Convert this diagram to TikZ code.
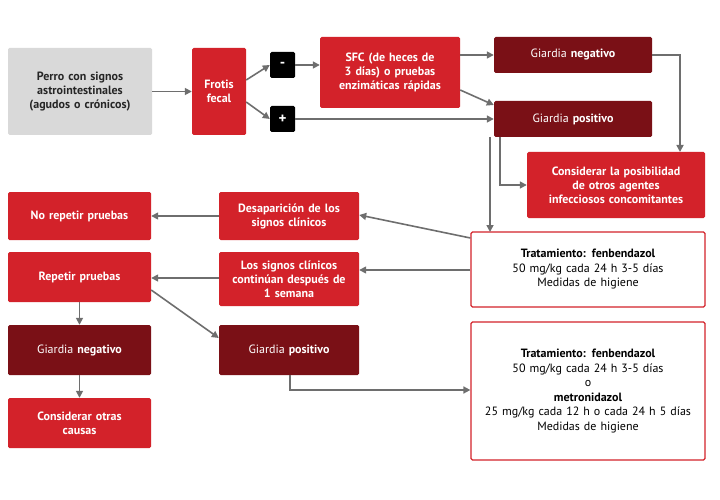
\documentclass[tikz,border=0pt]{standalone}
\usepackage{fontspec}
\setmainfont{PT Sans}
\usetikzlibrary{arrows.meta}
\definecolor{rd}{HTML}{D3222A}
\definecolor{drd}{HTML}{7A1016}
\definecolor{gb}{HTML}{D9D9D9}
\definecolor{ar}{HTML}{6E6E6E}
\begin{document}
\begin{tikzpicture}[x=1pt,y=-1pt,
 bx/.style={draw=none,rounded corners=1.5pt,inner sep=2pt,align=center,font=\fontsize{12}{14}\selectfont\bfseries,text=white},
 red/.style={bx,fill=rd},
 dark/.style={bx,fill=drd,font=\fontsize{12}{14}\selectfont},
 wt/.style={bx,fill=white,draw=rd,line width=1.2pt,text=black,font=\fontsize{12}{14.5}\selectfont},
 ar/.style={draw=ar,line width=1.6pt,-{Triangle[length=7pt,width=7pt]}}]
\useasboundingbox (0,0) rectangle (720,500);
\newcommand{\bxat}[6]{\node[#1,minimum width=#4-#2,minimum height=#5-#3,text width=#4-#2-6] (#6) at ({(#2+#4)/2},{(#3+#5)/2})}
\bxat{bx,fill=gb,text=black!85}{8}{48}{152}{135}{pe} {Perro con signos\\ astrointestinales\\ (agudos o crónicos)};
\bxat{red}{192}{48}{246}{135}{ff} {Frotis\\ fecal};
\node[bx,fill=black,minimum width=25,minimum height=26,font=\fontsize{15}{15}\selectfont\bfseries] (mi) at (282.5,65) {-};
\node[bx,fill=black,minimum width=25,minimum height=26,font=\fontsize{15}{15}\selectfont\bfseries] (pl) at (282.5,119) {+};
\bxat{red}{320}{37}{460}{108}{sfc} {SFC (de heces de\\ 3 días) o pruebas\\ enzimáticas rápidas};
\bxat{dark}{494}{37}{652}{73}{gn} {Giardia \textbf{negativo}};
\bxat{dark}{494}{101}{652}{137}{gp} {Giardia \textbf{positivo}};
\bxat{red}{527}{152}{705}{218}{co} {Considerar la posibilidad\\ de otros agentes\\ infecciosos concomitantes};
\bxat{wt}{471}{232}{705}{307}{t1} {\textbf{Tratamiento: fenbendazol}\\ 50 mg/kg cada 24 h 3-5 días\\ Medidas de higiene};
\bxat{wt}{471}{322}{705}{460}{t2} {\textbf{Tratamiento: fenbendazol}\\ 50 mg/kg cada 24 h 3-5 días\\ o\\ \textbf{metronidazol}\\ 25 mg/kg cada 12 h o cada 24 h 5 días\\ Medidas de higiene};
\bxat{red}{219}{192}{359}{240}{de} {Desaparición de los\\ signos clínicos};
\bxat{red}{219}{252}{359}{306}{ls} {Los signos clínicos\\ continúan después de\\ 1 semana};
\bxat{red}{8}{192}{151}{240}{nr} {No repetir pruebas};
\bxat{red}{8}{252}{151}{302}{rp} {Repetir pruebas};
\bxat{dark}{8}{325}{151}{375}{gn2} {Giardia \textbf{negativo}};
\bxat{dark}{219}{325}{359}{375}{gp2} {Giardia \textbf{positivo}};
\bxat{red}{8}{398}{151}{448}{cc} {Considerar otras\\ causas};
\draw[ar] (pe) -- (ff);
\draw[ar] (ff.east|-0,80) -- (mi.west);
\draw[ar] (ff.east|-0,102) -- (pl.west);
\draw[ar] (mi) -- (sfc.west|-mi);
\draw[ar] (pl) -- (gp.west|-pl);
\draw[ar] (sfc.east|-0,55) -- (gn.west|-0,55);
\draw[ar] (sfc.east|-0,90) -- (gp.west|-0,105);
\draw[ar] (gn.east) -| (680,152);
\draw[ar] (500,137) |- (co.west|-0,185);
\draw[ar] (490,137) -- (490,232);
\draw[ar] (t1.west|-0,238) -- (de.east|-0,215);
\draw[ar] (t1.west|-0,270) -- (ls.east|-0,270);
\draw[ar] (de) -- (nr);
\draw[ar] (ls.west|-0,278) -- (rp.east|-0,278);
\draw[ar] (rp) -- (gn2);
\draw[ar] (rp.east|-0,290) -- (gp2.west|-0,338);
\draw[ar] (gn2) -- (cc);
\draw[ar] (290,375) |- (t2.west|-0,390);
\end{tikzpicture}
\end{document}
